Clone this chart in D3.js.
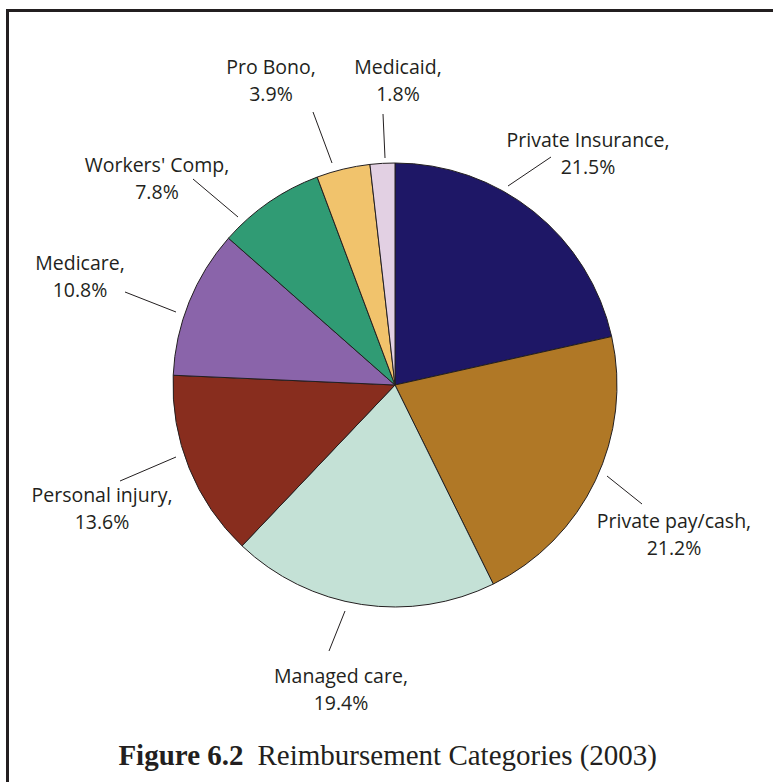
<!DOCTYPE html>
<html>
<head>
<meta charset="utf-8">
<script src="https://cdn.jsdelivr.net/npm/d3@7"></script>
<style>
  html, body { margin: 0; padding: 0; background: #fff; }
  svg { display: block; }
</style>
</head>
<body>
<svg id="chart" width="773" height="782"></svg>
<script>
// ---- data ----
const categories = ["Private Insurance", "Private pay/cash", "Managed care", "Personal injury",
                    "Medicare", "Workers' Comp", "Pro Bono", "Medicaid"];
const percentages = [21.5, 21.2, 19.4, 13.6, 10.8, 7.8, 3.9, 1.8];
const titleBold = "Figure 6.2";
const titleText = "Reimbursement Categories (2003)";

// ---- styles / layout ----
const colors = ["#1e1766", "#b07826", "#c4e1d6", "#882d1e", "#8a64aa", "#309b74", "#f1c36c", "#e2d0e3"];
// label anchor (center x, first baseline y)
const labelPos = [[588, 147], [674, 528], [341, 683], [102, 502], [80, 270], [157, 172], [271, 74], [398, 74]];
// leader line: [start x, start y, end x, end y]
const leaders = [[508, 186, 551, 157], [607, 476, 642, 504], [345, 611, 329, 651], [176, 457, 120, 481],
                 [176, 312, 125, 292], [238, 217, 193, 179], [332, 163, 313, 112], [385, 158, 383, 114]];

const W = 773, H = 782;
const cx = 395, cy = 385, R = 222;
const ink = "#231f20";

const svg = d3.select("#chart");

// frame (top and left rules)
svg.append("line").attr("x1", 7.5).attr("x2", W).attr("y1", 10.5).attr("y2", 10.5)
  .attr("stroke", ink).attr("stroke-width", 3);
svg.append("line").attr("x1", 7.5).attr("x2", 7.5).attr("y1", 9).attr("y2", H)
  .attr("stroke", ink).attr("stroke-width", 3);

const color = d3.scaleOrdinal().domain(categories).range(colors);
const pie = d3.pie().sort(null).value(d => d.v).startAngle(0).endAngle(2 * Math.PI);
const data = categories.map((c, i) => ({ c, v: percentages[i], i }));
const arcs = pie(data);
const arc = d3.arc().innerRadius(0).outerRadius(R);

const g = svg.append("g").attr("transform", `translate(${cx},${cy})`);
g.selectAll("path").data(arcs).join("path")
  .attr("d", arc)
  .attr("fill", d => color(d.data.c))
  .attr("stroke", ink)
  .attr("stroke-width", 1)
  .attr("stroke-linejoin", "round");

// leader lines
svg.selectAll("line.leader").data(arcs).join("line")
  .attr("class", "leader")
  .attr("x1", d => leaders[d.index][0]).attr("y1", d => leaders[d.index][1])
  .attr("x2", d => leaders[d.index][2]).attr("y2", d => leaders[d.index][3])
  .attr("stroke", ink).attr("stroke-width", 1);

// labels
const fmt = d3.format(".1f");
const lab = svg.selectAll("text.lab").data(arcs).join("text")
  .attr("class", "lab")
  .attr("text-anchor", "middle")
  .attr("font-family", "'Open Sans', 'Noto Sans', sans-serif")
  .attr("font-size", 19.5)
  .attr("fill", ink);
lab.append("tspan")
  .attr("x", d => labelPos[d.index][0]).attr("y", d => labelPos[d.index][1])
  .text(d => d.data.c + ",");
lab.append("tspan")
  .attr("x", d => labelPos[d.index][0]).attr("y", d => labelPos[d.index][1] + 27)
  .text(d => fmt(d.data.v) + "%");

// title
const title = svg.append("text")
  .attr("x", 657).attr("y", 765)
  .attr("text-anchor", "end")
  .attr("font-family", "'Liberation Serif', 'DejaVu Serif', serif")
  .attr("font-size", 29)
  .attr("fill", ink);
title.append("tspan").attr("font-weight", "bold").text(titleBold);
title.append("tspan").attr("dx", 14).text(titleText);
</script>
</body>
</html>
